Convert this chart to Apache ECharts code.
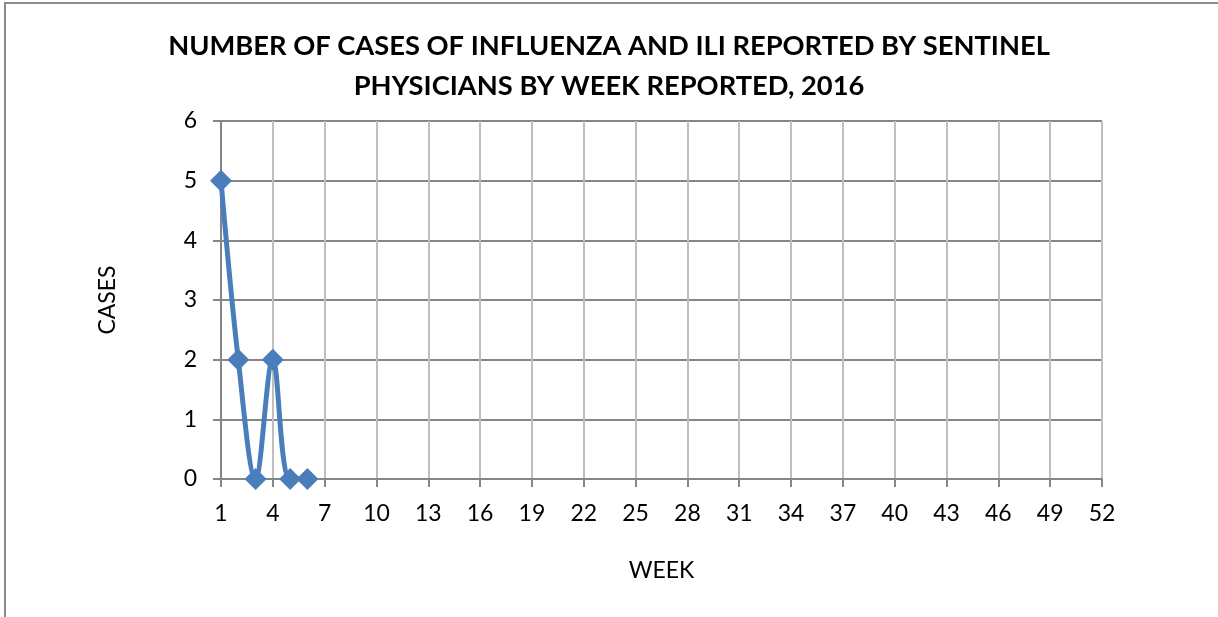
<!DOCTYPE html>
<html>
<head>
<meta charset="utf-8">
<script src="https://cdn.jsdelivr.net/npm/echarts@6/dist/echarts.min.js"></script>
<style>
html,body{margin:0;padding:0;background:#fff;}
#frame{position:absolute;left:4px;top:2px;width:1214px;height:615px;border-left:2px solid #8c8c8c;border-top:2px solid #8c8c8c;box-sizing:border-box;}
#chart{position:absolute;left:0;top:0;width:1218px;height:617px;}
</style>
</head>
<body>
<div id="frame"></div>
<div id="chart"></div>
<script>
const titleLines = ['NUMBER OF CASES OF INFLUENZA AND ILI REPORTED BY SENTINEL', 'PHYSICIANS BY WEEK REPORTED, 2016'];
const weeks = [];
for (let w = 1; w <= 52; w++) weeks.push(String(w));
const cases = [5, 2, 0, 2, 0, 0];
const yTicks = [0, 1, 2, 3, 4, 5, 6];
const seriesData = weeks.map((w, i) => (i < cases.length ? cases[i] : null));

const font = 'Lato, "Open Sans", sans-serif';
const chart = echarts.init(document.getElementById('chart'));
chart.setOption({
  animation: false,
  backgroundColor: 'transparent',
  title: {
    text: titleLines.join('\n'),
    left: 'center',
    top: 21,
    textStyle: {fontFamily: font, fontWeight: 'bold', fontSize: 27.3, color: '#000', lineHeight: 40}
  },
  grid: {left: 221, right: 116, top: 121, bottom: 138},
  xAxis: {
    type: 'category',
    data: weeks,
    boundaryGap: false,
    name: 'WEEK',
    nameLocation: 'middle',
    nameGap: 80,
    nameTextStyle: {fontFamily: font, fontSize: 23, color: '#000'},
    axisLine: {lineStyle: {color: '#868686', width: 2}},
    axisTick: {show: true, interval: 2, length: 8, lineStyle: {color: '#868686', width: 2}},
    axisLabel: {interval: 2, fontFamily: font, fontSize: 23, color: '#000', margin: 23},
    splitLine: {show: true, interval: 2, lineStyle: {color: '#bfbfbf', width: 2}}
  },
  yAxis: {
    type: 'value',
    min: yTicks[0],
    max: yTicks[yTicks.length - 1],
    interval: 1,
    name: 'CASES',
    nameLocation: 'middle',
    nameGap: 102,
    nameRotate: 90,
    nameTextStyle: {fontFamily: font, fontSize: 23, color: '#000'},
    axisLine: {show: true, lineStyle: {color: '#868686', width: 2}},
    axisTick: {show: true, length: 8, lineStyle: {color: '#868686', width: 2}},
    axisLabel: {fontFamily: font, fontSize: 23, color: '#000', margin: 24},
    splitLine: {show: true, lineStyle: {color: '#868686', width: 2}}
  },
  series: [{
    type: 'line',
    data: seriesData,
    smooth: 0.35,
    connectNulls: false,
    showAllSymbol: true,
    symbol: 'diamond',
    symbolSize: 22,
    itemStyle: {color: '#4a7ebb'},
    lineStyle: {color: '#4a7ebb', width: 5}
  }]
});
</script>
</body>
</html>
